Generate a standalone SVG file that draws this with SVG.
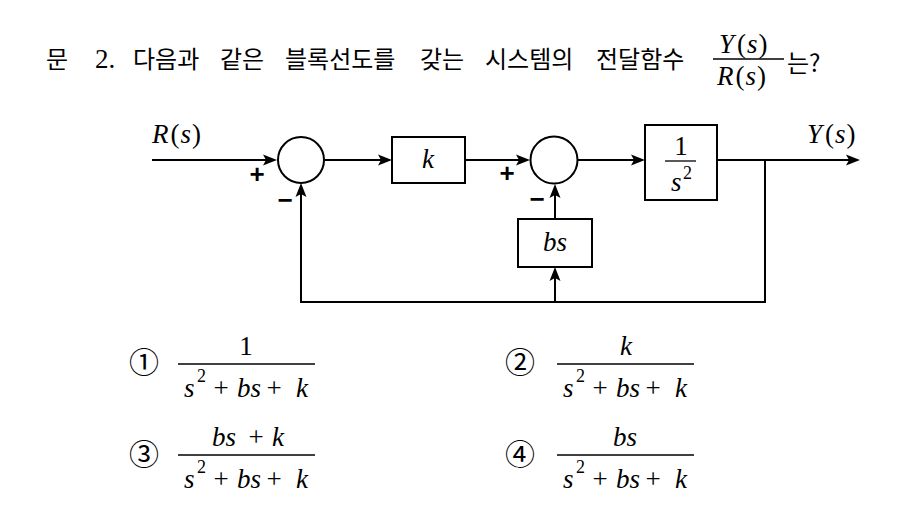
<svg xmlns="http://www.w3.org/2000/svg" width="911" height="514" viewBox="0 0 911 514">
<style>
.ko{font-family:"Noto Sans CJK KR","Noto Sans",sans-serif;font-size:24px;fill:#000}
.m{font-family:"Liberation Serif",serif;font-size:27px;font-style:italic;fill:#000}
.r{font-family:"Liberation Serif",serif;font-size:27px;font-style:normal;fill:#000}
.sup{font-family:"Liberation Serif",serif;font-size:18px;font-style:normal;fill:#000}
.sg{font-family:"Liberation Sans",sans-serif;font-size:26px;font-weight:bold;fill:#000;text-anchor:middle}
.cn{font-family:"Noto Sans CJK KR",sans-serif;font-size:30px;fill:#000;text-anchor:middle}
.box{fill:#fff;stroke:#000;stroke-width:2}
.ln{fill:none;stroke:#000;stroke-width:2}
.bar{stroke:#000;stroke-width:1.3}
.mid{text-anchor:middle}
</style>
<defs>
<marker id="ah" markerUnits="userSpaceOnUse" viewBox="-10 -10 20 20" markerWidth="20" markerHeight="20" refX="0" refY="0" orient="auto" overflow="visible">
<path d="M6,0 L-8,-5.5 L-5,0 L-8,5.5 Z" fill="#000"/>
</marker>
</defs>
<rect width="911" height="514" fill="#fff"/>

<g id="title">
<text class="ko" x="46" y="68">문</text>
<text class="r" x="95" y="68" font-size="26">2.</text>
<text class="ko" x="133" y="68">다음과</text>
<text class="ko" x="220" y="68">같은</text>
<text class="ko" x="285" y="68">블록선도를</text>
<text class="ko" x="420" y="68">갖는</text>
<text class="ko" x="485" y="68">시스템의</text>
<text class="ko" x="596" y="68">전달함수</text>
<text class="m" x="719" y="53">Y<tspan class="r" dx="3">(</tspan><tspan dx="1">s</tspan><tspan class="r" dx="1">)</tspan></text>
<line class="bar" x1="713" y1="59" x2="784" y2="59"/>
<text class="m" x="717" y="85">R<tspan class="r" dx="2">(</tspan><tspan dx="1">s</tspan><tspan class="r" dx="1">)</tspan></text>
<text class="ko" x="787" y="72" font-size="22">는?</text>
</g>

<g id="connectors">
<path class="ln" d="M152,160 H271" marker-end="url(#ah)"/>
<path class="ln" d="M324,160 H386" marker-end="url(#ah)"/>
<path class="ln" d="M465,160 H524" marker-end="url(#ah)"/>
<path class="ln" d="M578,160 H639" marker-end="url(#ah)"/>
<path class="ln" d="M717,160 H854" marker-end="url(#ah)"/>
<path class="ln" d="M765,160 V302 H301 V189" marker-end="url(#ah)"/>
<path class="ln" d="M555,302 V273" marker-end="url(#ah)"/>
<path class="ln" d="M555,219 V190" marker-end="url(#ah)"/>
</g>

<g id="input-label">
<text class="m" x="152" y="143">R<tspan class="r" dx="2">(</tspan><tspan dx="1">s</tspan><tspan class="r" dx="1">)</tspan></text>
</g>
<g id="output-label">
<text class="m" x="807" y="143">Y<tspan class="r" dx="3">(</tspan><tspan dx="1">s</tspan><tspan class="r" dx="1">)</tspan></text>
</g>

<g id="sum1">
<circle class="box" cx="301" cy="160" r="23"/>
<text class="sg" x="257" y="183">+</text>
<text class="sg" x="285" y="209">−</text>
</g>

<g id="block-k">
<rect class="box" x="392" y="137" width="73" height="46"/>
<text class="m mid" x="428" y="168">k</text>
</g>

<g id="sum2">
<circle class="box" cx="554" cy="160" r="23.5"/>
<text class="sg" x="507" y="182">+</text>
<text class="sg" x="537" y="208">−</text>
</g>

<g id="block-plant">
<rect class="box" x="645" y="125" width="72" height="75"/>
<text class="r mid" x="681" y="155">1</text>
<line class="bar" x1="665" y1="161" x2="696" y2="161"/>
<text class="m" x="671" y="191">s</text>
<text class="sup" x="683" y="179">2</text>
</g>

<g id="block-bs">
<rect class="box" x="518" y="219" width="74" height="48"/>
<text class="m mid" x="555" y="251">bs</text>
</g>

<g id="choice1">
<text class="cn" x="144" y="373">①</text>
<text class="r mid" x="246" y="355">1</text>
<line class="bar" x1="178" y1="364" x2="315" y2="364"/>
<text class="m" x="184" y="397">s</text>
<text class="sup" x="197" y="382">2</text>
<text class="r mid" x="221" y="397">+</text>
<text class="m" x="237" y="397">bs</text>
<text class="r mid" x="274" y="397">+</text>
<text class="m" x="296" y="397">k</text>
</g>

<g id="choice2">
<text class="cn" x="520" y="373">②</text>
<text class="m mid" x="626" y="355">k</text>
<line class="bar" x1="557" y1="364" x2="694" y2="364"/>
<text class="m" x="563" y="397">s</text>
<text class="sup" x="576" y="382">2</text>
<text class="r mid" x="600" y="397">+</text>
<text class="m" x="616" y="397">bs</text>
<text class="r mid" x="653" y="397">+</text>
<text class="m" x="675" y="397">k</text>
</g>

<g id="choice3">
<text class="cn" x="144" y="465">③</text>
<text class="m" x="212" y="446">bs</text>
<text class="r mid" x="256" y="446">+</text>
<text class="m" x="272" y="446">k</text>
<line class="bar" x1="178" y1="455" x2="315" y2="455"/>
<text class="m" x="184" y="488">s</text>
<text class="sup" x="197" y="473">2</text>
<text class="r mid" x="221" y="488">+</text>
<text class="m" x="237" y="488">bs</text>
<text class="r mid" x="274" y="488">+</text>
<text class="m" x="296" y="488">k</text>
</g>

<g id="choice4">
<text class="cn" x="520" y="465">④</text>
<text class="m mid" x="625" y="446">bs</text>
<line class="bar" x1="557" y1="455" x2="694" y2="455"/>
<text class="m" x="563" y="488">s</text>
<text class="sup" x="576" y="473">2</text>
<text class="r mid" x="600" y="488">+</text>
<text class="m" x="616" y="488">bs</text>
<text class="r mid" x="653" y="488">+</text>
<text class="m" x="675" y="488">k</text>
</g>
</svg>
